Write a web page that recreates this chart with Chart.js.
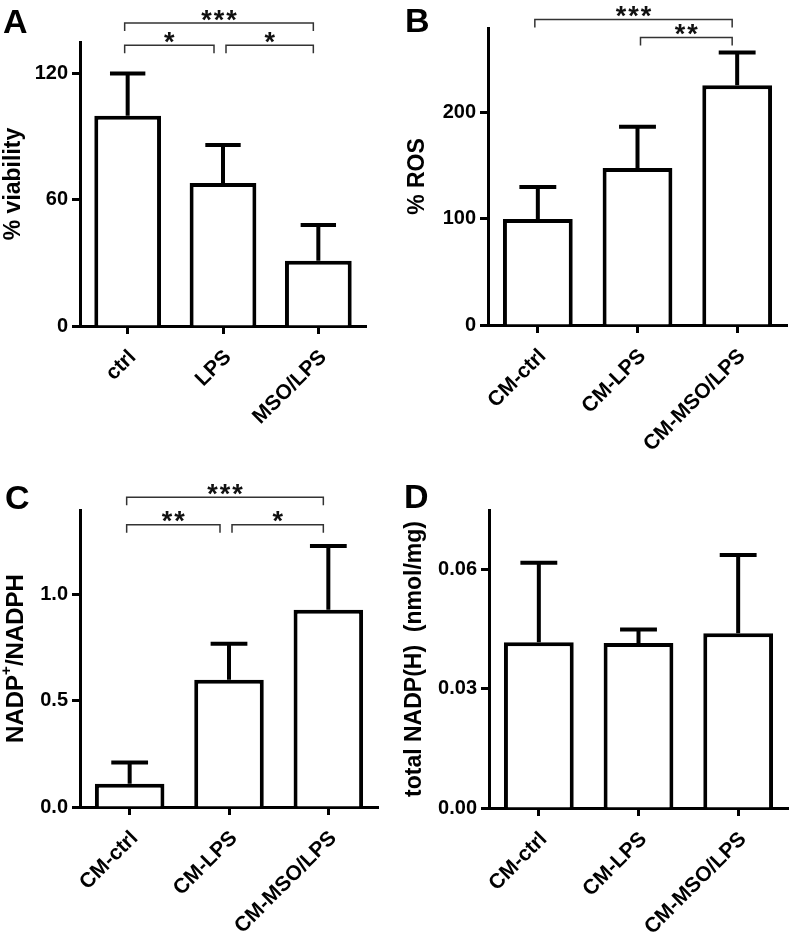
<!DOCTYPE html>
<html>
<head>
<meta charset="utf-8">
<script src="https://cdn.jsdelivr.net/npm/chart.js@4.4.1/dist/chart.umd.min.js"></script>
<style>
  body { margin: 0; background: #fff; }
  .panel { position: absolute; width: 396px; height: 470px; }
</style>
</head>
<body>
<div class="panel" style="left:0;top:0"><canvas id="chartA" width="396" height="470"></canvas></div>
<div class="panel" style="left:396px;top:0"><canvas id="chartB" width="396" height="470"></canvas></div>
<div class="panel" style="left:0;top:470px"><canvas id="chartC" width="396" height="470"></canvas></div>
<div class="panel" style="left:396px;top:470px"><canvas id="chartD" width="396" height="470"></canvas></div>
<script>
// Panel A - cell viability
const labelsA = ['ctrl', 'LPS', 'MSO/LPS'];
const meanA = [100, 68, 31];
const errA = [20, 18, 17];
const ticksA = [0, 60, 120];
const sigPairsA = [[0, 2], [0, 1], [1, 2]];
const sigTextA = ['***', '*', '*'];
const sigLevelA = [144, 133.5, 133.5];

// Panel B - ROS
const labelsB = ['CM-ctrl', 'CM-LPS', 'CM-MSO/LPS'];
const meanB = [100, 148, 226];
const errB = [30, 39, 31];
const ticksB = [0, 100, 200];
const sigPairsB = [[0, 2], [1, 2]];
const sigTextB = ['***', '**'];
const sigLevelB = [288, 271];

// Panel C - NADP+/NADPH ratio
const labelsC = ['CM-ctrl', 'CM-LPS', 'CM-MSO/LPS'];
const meanC = [0.11, 0.60, 0.93];
const errC = [0.10, 0.17, 0.30];
const ticksC = [0, 0.5, 1.0];
const sigPairsC = [[0, 2], [0, 1], [1, 2]];
const sigTextC = ['***', '**', '*'];
const sigLevelC = [1.46, 1.33, 1.33];

// Panel D - total NADP(H)
const labelsD = ['CM-ctrl', 'CM-LPS', 'CM-MSO/LPS'];
const meanD = [0.0417, 0.0415, 0.0440];
const errD = [0.0200, 0.0034, 0.0197];
const ticksD = [0, 0.03, 0.06];

const FONT = "'Liberation Sans', Arial, Helvetica, sans-serif";

// error bars (upper only) drawn through the chart scales
const errorBars = {
    id: 'errorBars',
    afterDatasetsDraw(chart) {
        const ctx = chart.ctx;
        const xs = chart.scales.x, ys = chart.scales.y;
        const ds = chart.data.datasets[0];
        const meta = chart.getDatasetMeta(0);
        ctx.save();
        ctx.strokeStyle = '#000';
        ctx.lineWidth = 4;
        ds.data.forEach((v, i) => {
            const x = xs.getPixelForValue(i);
            const y0 = ys.getPixelForValue(v);
            const y1 = ys.getPixelForValue(v + ds.errors[i]);
            const half = meta.data[i].width / 4 + 1;
            ctx.beginPath();
            ctx.moveTo(x, y0);
            ctx.lineTo(x, y1);
            ctx.moveTo(x - half, y1);
            ctx.lineTo(x + half, y1);
            ctx.stroke();
        });
        ctx.restore();
    }
};

// significance brackets
const brackets = {
    id: 'brackets',
    afterDraw(chart, args, opts) {
        if (!opts.pairs) return;
        const ctx = chart.ctx;
        const xs = chart.scales.x, ys = chart.scales.y;
        const n = chart.data.labels.length;
        ctx.save();
        opts.pairs.forEach((p, k) => {
            const x1 = xs.getPixelForValue(p[0]) + (p[0] > 0 ? 3 : -3);
            const x2 = xs.getPixelForValue(p[1]) - (p[1] < n - 1 ? 9 : 5);
            const y = ys.getPixelForValue(opts.levels[k]);
            ctx.strokeStyle = '#333';
            ctx.lineWidth = 1.5;
            ctx.beginPath();
            ctx.moveTo(x1, y + 8);
            ctx.lineTo(x1, y);
            ctx.lineTo(x2, y);
            ctx.lineTo(x2, y + 8);
            ctx.stroke();
            const stars = opts.text[k];
            const mid = (x1 + x2) / 2;
            ctx.fillStyle = '#111';
            ctx.font = `bold 27px ${FONT}`;
            ctx.textAlign = 'center';
            ctx.textBaseline = 'alphabetic';
            for (let s = 0; s < stars.length; s++) {
                const cx = mid + (s - (stars.length - 1) / 2) * 12.5;
                ctx.fillText('*', cx, y - 10 + 0.575 * 27);
            }
        });
        ctx.restore();
    }
};

// panel letter
const panelLetter = {
    id: 'panelLetter',
    afterDraw(chart, args, opts) {
        const ctx = chart.ctx;
        ctx.save();
        ctx.fillStyle = '#000';
        ctx.font = `bold 34px ${FONT}`;
        ctx.textAlign = 'left';
        ctx.textBaseline = 'alphabetic';
        ctx.fillText(opts.text, opts.x, opts.y);
        ctx.restore();
    }
};

// y title with a superscript (panel C)
const supTitle = {
    id: 'supTitle',
    afterDraw(chart, args, opts) {
        if (!opts.parts) return;
        const ctx = chart.ctx;
        const ca = chart.chartArea;
        ctx.save();
        ctx.translate(opts.x, (ca.top + ca.bottom) / 2);
        ctx.rotate(-Math.PI / 2);
        ctx.fillStyle = '#000';
        ctx.textBaseline = 'middle';
        const big = `bold ${opts.size}px ${FONT}`;
        const small = `bold ${Math.round(opts.size * 0.62)}px ${FONT}`;
        let total = 0;
        opts.parts.forEach(p => { ctx.font = p.sup ? small : big; total += ctx.measureText(p.t).width; });
        let x = -total / 2;
        opts.parts.forEach(p => {
            ctx.font = p.sup ? small : big;
            ctx.fillText(p.t, x, p.sup ? -opts.size * 0.38 : 0);
            x += ctx.measureText(p.t).width;
        });
        ctx.restore();
    }
};

function makePanel(id, cfg) {
    const tickFont = { family: FONT, weight: 'bold', size: 20 };
    return new Chart(document.getElementById(id), {
        type: 'bar',
        data: {
            labels: cfg.labels,
            datasets: [{
                data: cfg.means,
                errors: cfg.errors,
                backgroundColor: '#fff',
                borderColor: '#000',
                borderWidth: 4,
                barPercentage: 0.7,
                categoryPercentage: 1
            }]
        },
        options: {
            responsive: false,
            animation: false,
            layout: { padding: { left: cfg.padLeft, top: cfg.top, right: 396 - cfg.right, bottom: 0 } },
            plugins: {
                legend: { display: false },
                tooltip: { enabled: false },
                panelLetter: cfg.letter,
                brackets: cfg.sig || {},
                supTitle: cfg.supTitle || {}
            },
            scales: {
                x: {
                    grid: { offset: false, drawOnChartArea: false, tickLength: 8, tickWidth: 3, tickColor: '#000' },
                    border: { color: '#000', width: 3 },
                    ticks: { color: '#000', font: { family: FONT, weight: 'bold', size: 21 }, minRotation: 45, maxRotation: 45, padding: 11, labelOffset: 5 },
                    afterFit: s => { s.height = 470 - cfg.bottom; }
                },
                y: {
                    min: 0,
                    max: cfg.yMax,
                    afterBuildTicks: s => { s.ticks = cfg.ticks.map(v => ({ value: v })); },
                    grid: { drawOnChartArea: false, tickLength: 8, tickWidth: 3, tickColor: '#000' },
                    border: { color: '#000', width: 3 },
                    ticks: { color: '#000', font: tickFont, padding: 4, callback: v => Number(v).toFixed(cfg.decimals) },
                    title: { display: !!cfg.title, text: cfg.title, color: '#000', padding: 0, font: { family: FONT, weight: 'bold', size: 23 } },
                    afterFit: s => { s.width = cfg.left - cfg.padLeft; }
                }
            }
        },
        plugins: [errorBars, brackets, panelLetter, supTitle]
    });
}

makePanel('chartA', {
    labels: labelsA, means: meanA, errors: errA, ticks: ticksA, yMax: 135, decimals: 0,
    title: '% viability', padLeft: 0, left: 80, right: 366, top: 42, bottom: 326,
    letter: { text: 'A', x: 3, y: 33 },
    sig: { pairs: sigPairsA, text: sigTextA, levels: sigLevelA }
});

makePanel('chartB', {
    labels: labelsB, means: meanB, errors: errB, ticks: ticksB, yMax: 280, decimals: 0,
    title: '% ROS', padLeft: 8, left: 92, right: 391, top: 28, bottom: 325,
    letter: { text: 'B', x: 9, y: 32 },
    sig: { pairs: sigPairsB, text: sigTextB, levels: sigLevelB }
});

makePanel('chartC', {
    labels: labelsC, means: meanC, errors: errC, ticks: ticksC, yMax: 1.4, decimals: 1,
    title: '', padLeft: 0, left: 80, right: 378, top: 40, bottom: 337,
    letter: { text: 'C', x: 5, y: 39 },
    sig: { pairs: sigPairsC, text: sigTextC, levels: sigLevelC },
    supTitle: { x: 16, size: 24, parts: [{ t: 'NADP' }, { t: '+', sup: true }, { t: '/NADPH' }] }
});

makePanel('chartD', {
    labels: labelsD, means: meanD, errors: errD, ticks: ticksD, yMax: 0.075, decimals: 2,
    title: 'total NADP(H)  (nmol/mg)', padLeft: 5, left: 93, right: 392, top: 40, bottom: 338,
    letter: { text: 'D', x: 8, y: 38 }
});
</script>
</body>
</html>
